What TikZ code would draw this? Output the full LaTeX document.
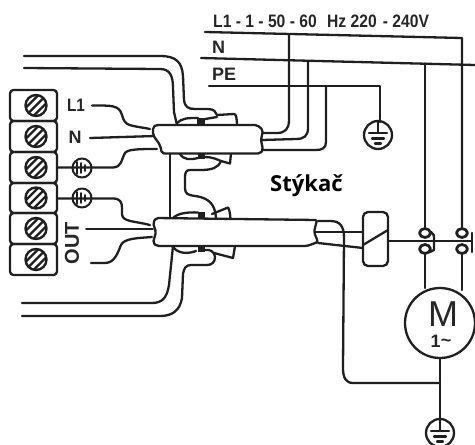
\documentclass[tikz,border=0pt]{standalone}
\usepackage{fontspec}
\setmainfont{Liberation Sans}
\newfontfamily\stfont{Open Sans}
\tikzset{
 wire/.style={line width=2.3pt,line join=round,line cap=round,color=black!88},
 thinw/.style={wire,line width=1.6pt},
 body/.style={wire,fill=white,rounded corners=2pt},
 blockb/.style={fill=black!88,draw=none},
 tbox/.style={wire,rounded corners=3.5pt},
 lab/.style={inner sep=0pt,font=\bfseries\fontsize{18}{18}\selectfont,color=black!85},
}
\newcommand{\screw}[1]{%
 \begin{scope}[shift={(36,#1)}]
  \draw[wire,line width=2.4pt] (0,0) circle (10.5);
  \begin{scope}\clip (0,0) circle (10);
   \draw[wire,line width=2.4pt] (-10,2) -- (2,-10) (-10,10) -- (10,-10) (-2,10) -- (10,-2);
  \end{scope}
 \end{scope}}
\newcommand{\bigground}[1]{%
 \begin{scope}[shift={#1}]
  \draw[wire] (0,0) circle (14);
  \draw[wire] (-9,-2) -- (9,-2) (-6,3.5) -- (6,3.5) (-3,8.5) -- (3,8.5);
  \draw[wire] (0,-14) -- (0,-2);
 \end{scope}}
\newcommand{\smallground}[1]{%
 \begin{scope}[shift={#1}]
  \draw[wire,line width=2pt] (0,0) circle (9.5);
  \draw[wire,line width=1.9pt] (-5,-6) -- (-5,6) (-1,-5) -- (-1,5) (3,-3) -- (3,3);
 \end{scope}}
\begin{document}
\begin{tikzpicture}[x=1pt,y=-1pt]
\useasboundingbox (0,0) rectangle (475,445);
% terminal strip
\foreach \a/\b in {90/121,121/152,152/183,183/213,213/244,244/275}
  \draw[tbox] (10,\a) rectangle (57,\b);
\foreach \c in {105.5,136.5,167.5,198,228.5,259.5} \screw{\c};
% labels
\node[lab] (tl1) at (76,105) {\scalebox{0.85}[1]{L1}};
\node[lab] (tn) at (75,137) {N};
\node[lab,font=\bfseries\fontsize{20}{20}\selectfont,rotate=90] (tout) at (72,243) {OUT};
% wires to terminal
\draw[wire] (92,105.5) .. controls (112,105.5) and (119,105) .. (122,115) .. controls (125,127) and (130,125) .. (150,129);
\draw[wire] (90,138) -- (155,136);
\draw[wire] (57,167.5) -- (113,167.5) .. controls (122,167) and (121,160) .. (125,153) .. controls (128,149) and (140,149) .. (157,149);
\draw[wire] (57,198.5) -- (113,198.5) .. controls (120,198.5) and (122,202) .. (122,208) -- (122,214) .. controls (122,222) and (135,221) .. (150,225);
\draw[thinw] (86,229) -- (153,229);
\draw[wire] (91,263) -- (105,263) .. controls (115,263) and (118,252) .. (121,245) .. controls (124,238) and (140,238) .. (152,237);
\smallground{(82,168)}
\smallground{(82,198)}
% top left wires
\draw[wire] (24,56) -- (160,56) .. controls (176,56) and (182,62) .. (183,76) -- (184,100) .. controls (185,107) and (188,109) .. (195,109) -- (208,109) .. controls (214,109) and (216,112) .. (217,115) -- (234,114) .. controls (236,114) and (237,118) .. (237,126);
\draw[wire] (24,68) -- (160,69) .. controls (170,69) and (173,76) .. (173,88) -- (174,112) -- (177,125);
% upper contactor humps
\draw[wire] (177,123) .. controls (182,118) and (188,118) .. (198,118);
\draw[wire] (205,119) -- (217,117);
\fill[blockb] (197,118) rectangle (205,126);
\draw[wire] (180,154) .. controls (184,160) and (190,160) .. (198,158);
\fill[blockb] (198,152) rectangle (205,158.5);
\draw[wire] (205,157) .. controls (212,157) and (216,159) .. (221,161) -- (230,163.5) -- (231,153);
\draw[wire] (221,161) .. controls (218,168) and (212,170) .. (200,170) -- (190,170) .. controls (186,170) and (185,173) .. (185,177) -- (185,188) .. controls (185,194) and (188,195) .. (195,196) .. controls (210,198) and (215,205) .. (216,218);
\draw[wire] (170,152) -- (170,218);
% lower contactor humps
\draw[wire] (173,218) .. controls (178,213) and (188,212) .. (198,212.5);
\fill[blockb] (198,212) rectangle (205,219);
\draw[wire] (212,214) -- (228,207.5) .. controls (229,209) and (230,212) .. (230.5,219);
\draw[wire] (172,246) .. controls (175,250) and (182,256) .. (196,251);
\fill[blockb] (198,245) rectangle (205,252);
\draw[wire] (205,250) .. controls (210,249) and (215,252) .. (215,257) .. controls (215,262) and (212,265) .. (207,265) -- (191,265) .. controls (186,265) and (184,268) .. (183,274) -- (182,298) .. controls (180,310) and (173,316) .. (160,316) -- (22,316);
\draw[wire] (214,253) -- (233,258) -- (235,246);
\draw[wire] (173,246) -- (169,285) .. controls (167,298) and (162,303) .. (152,303) -- (22,303);
% bodies
\draw[body] (153,127) -- (156,125) -- (257,125) -- (263,130) -- (261,140) -- (263,150) -- (260,153.5) -- (162,153.5) -- (160,145) -- (153,135) -- cycle;
\draw[body] (153,223) -- (156,218) -- (317,220) -- (314,232) -- (318,242) -- (307,246) -- (157,246) -- (153,243) -- (156,232) -- cycle;
% mains
\draw[wire] (205,32) -- (462,38) -- (462,227);
\draw[wire] (201,58) -- (475,65);
\draw[wire] (425,63.5) -- (425,227);
\draw[wire] (209,86) -- (380,86) -- (380,122);
\draw[wire] (289,34) -- (289,120) .. controls (289,129) and (285,133) .. (277,133) -- (263,133);
\draw[wire] (308,62) -- (308,128) .. controls (308,136) and (304,139) .. (296,139) -- (262,140);
\draw[wire] (326,86) -- (326,142) .. controls (326,148) and (322,150) .. (316,150) -- (263,150);
\bigground{(378,135)}
% coil connections
\draw[wire] (318,221) -- (330,221) .. controls (340,221) and (344,226) .. (344,238) -- (343,368) .. controls (343,378) and (346,383) .. (353,383) -- (440,383);
\draw[wire] (315,232) -- (363,232);
\draw[wire] (318,243) -- (363,248);
\draw[tbox,rounded corners=5pt] (363,212) rectangle (388,266);
\draw[wire] (363,245) -- (388,230);
% contacts
\draw[wire] (388,241) -- (472,241);
\draw[wire] (425,255) -- (425,288);
\draw[wire] (462,255) -- (462,290);
\foreach \xc in {425,462}{
 \draw[wire,fill=white,line width=2.7pt] (\xc,233) ellipse (5.5 and 4.5);
 \draw[wire,fill=white,line width=2.7pt] (\xc,249) ellipse (5.5 and 4.5);
}
\draw[wire] (431,232) .. controls (434,233) and (434,236) .. (434,240) -- (434,250) -- (430,252);
\draw[wire] (472,233) -- (472,252);
% motor
\node[wire,draw,circle,fill=white,minimum size=70pt,inner sep=0pt] (motor) at (440,323) {};
\node[inner sep=0pt,font=\fontsize{36}{36}\selectfont,color=black!85] (mm) at (443,314) {M};
\node[inner sep=0pt,font=\bfseries\fontsize{18}{18}\selectfont,color=black!85] (m1) at (441,341) {1\raisebox{1pt}{\textasciitilde}};
\draw[wire] (motor.south) -- (440,419);
\bigground{(440,433)}
% text
\node[lab,anchor=west] (hdr) at (213,21) {\scalebox{0.87}[1]{L1 - 1 - 50 - 60\hspace{12pt}Hz 220\hspace{7pt}- 240V}};
\node[lab,anchor=west] (nl) at (212,47) {N};
\node[lab,anchor=west] (pe) at (212,74) {PE};
\node[inner sep=0pt,anchor=west,font=\stfont\bfseries\fontsize{22}{22}\selectfont] (st) at (270,186) {Stýkač};
\end{tikzpicture}
\end{document}
